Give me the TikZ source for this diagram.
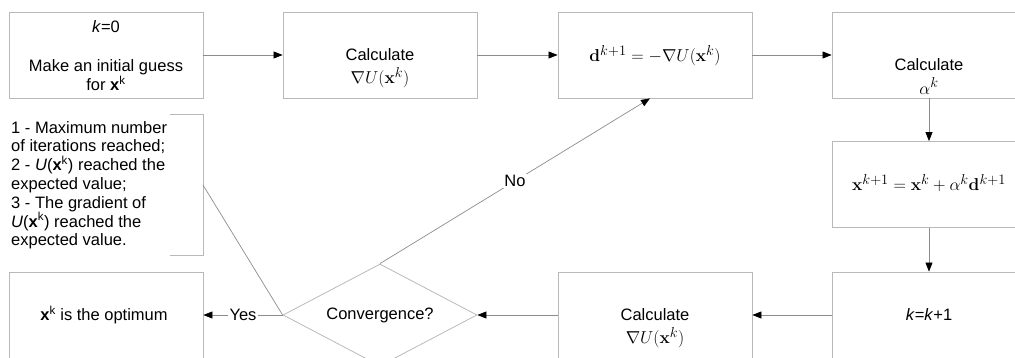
\documentclass[tikz,border=0pt]{standalone}
\usepackage[no-math]{fontspec}
\setmainfont{Liberation Sans}
\usetikzlibrary{arrows.meta,shapes.geometric}
\definecolor{boxgray}{RGB}{185,185,185}
\definecolor{linegray}{RGB}{140,140,140}
\begin{document}
\begin{tikzpicture}[x=1pt,y=-1pt,
  box/.style={draw=boxgray, line width=0.8pt, minimum width=194pt, minimum height=86pt, inner sep=0pt},
  txt/.style={align=center, inner sep=0pt, font=\fontsize{16.5}{17}\selectfont},
  mth/.style={inner sep=0pt, font=\fontsize{19}{20}\selectfont},
  conn/.style={draw=linegray, line width=0.7pt, -{Triangle[length=9pt,width=7pt,color=black,fill=black]}},
  plain/.style={draw=linegray, line width=0.7pt},
  lbl/.style={fill=white, inner sep=1.5pt, font=\fontsize{16.5}{17}\selectfont},
]
\useasboundingbox (0,0) rectangle (1015,358);
% boxes
\node[box] (init) at (106,55) {};
\node[box] (calc1) at (380,55) {};
\node[box] (dir) at (655,55) {};
\node[box] (alpha) at (929,55) {};
\node[box] (update) at (929,184.5) {};
\node[box, minimum height=88pt] (incr) at (929,316) {};
\node[box, minimum height=88pt] (calc2) at (655,316) {};
\node[box, minimum height=88pt] (opt) at (106,316) {};
\node[diamond, draw=boxgray, line width=0.8pt, minimum width=194pt, minimum height=102pt, inner sep=0pt, aspect=1.9, font=\fontsize{16.5}{17}\selectfont] (conv) at (380,315) {Convergence?};
% texts
\node[txt] (t1a) at (106,27) {\textit{k}=0};
\node[txt] (t1b) at (106,75) {Make an initial guess\\for \textbf{x}\textsuperscript{k}};
\node[txt] (t2a) at (380,55) {Calculate};
\node[mth] (t2b) at (380,78) {$\nabla U(\mathbf{x}^{k})$};
\node[mth] (t3) at (655,56) {$\mathbf{d}^{k+1}=-\nabla U(\mathbf{x}^{k})$};
\node[txt] (t4a) at (929,65) {Calculate};
\node[mth] (t4b) at (929,86) {$\alpha^{k}$};
\node[mth] (t5) at (929,183) {$\mathbf{x}^{k+1}=\mathbf{x}^{k}+\alpha^{k}\mathbf{d}^{k+1}$};
\node[txt] (t6) at (929,315) {\textit{k}=\textit{k}+1};
\node[txt] (t7a) at (655,315) {Calculate};
\node[mth] (t7b) at (655,338) {$\nabla U(\mathbf{x}^{k})$};
\node[txt] (t8) at (104,315) {\textbf{x}\textsuperscript{k} is the optimum};
% annotation
\node[anchor=north west, align=left, inner sep=0pt, font=\fontsize{16.5}{18.8}\selectfont] (note) at (11,121)
 {1 - Maximum number\\of iterations reached;\\2 - \textit{U}(\textbf{x}\textsuperscript{k}) reached the\\expected value;\\3 - The gradient of\\\textit{U}(\textbf{x}\textsuperscript{k}) reached the\\expected value.};
\draw[draw=boxgray, line width=0.8pt] (170,114) -- (203,114) -- (203,255) -- (170,255);
\coordinate (notept) at (203,185);
\draw[plain] (notept) -- (conv.west);
% connectors
\draw[conn] (init.east) -- (calc1.west);
\draw[conn] (calc1.east) -- (dir.west);
\draw[conn] (dir.east) -- (alpha.west);
\draw[conn] (alpha.south) -- (update.north);
\draw[conn] (update.south) -- (incr.north);
\draw[conn] (incr.west |- conv.east) -- (calc2.east |- conv.east);
\draw[conn] (calc2.west |- conv.east) -- (conv.east);
\draw[conn] (conv.west) -- node[lbl] {Yes} (opt.east |- conv.west);
\draw[conn] (conv.north) -- node[lbl] {No} ([xshift=-5pt]dir.south);
\end{tikzpicture}
\end{document}
